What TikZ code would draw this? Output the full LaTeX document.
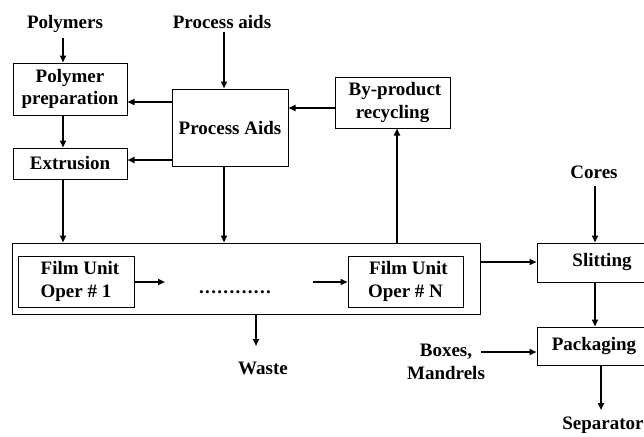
\documentclass[tikz,border=0pt]{standalone}
\usepackage{fontspec}
\setmainfont{Liberation Serif}
\usetikzlibrary{arrows.meta}
\begin{document}
\begin{tikzpicture}[x=1pt,y=-1pt,
  every node/.style={font=\fontsize{19}{22.5}\selectfont\bfseries, inner sep=0pt, align=center},
  box/.style={draw, line width=1pt},
  arr/.style={line width=2pt, -{Triangle[length=7pt,width=6pt]}},
  ln/.style={line width=2pt}]
\useasboundingbox (0,0) rectangle (644,436);
\begin{scope}
\clip (0,0) rectangle (644,436);
% labels
\node (polymers) at (65,24) {Polymers};
\node (paids) at (222,22) {Process aids};
\node (cores) at (594,172) {Cores};
\node (waste) at (263,368) {Waste};
\node (boxes) at (446,362) {Boxes,\\Mandrels};
\node (sep) at (603,425) {Separator};
% boxes
\node[box, minimum width=114, minimum height=52] (pp) at (70,89) {Polymer\\preparation};
\node[box, minimum width=114, minimum height=31] (ex) at (70,163.5) {Extrusion};
\node[box, minimum width=116, minimum height=77] (pa) at (230,127.5) {Process Aids};
\node[box, minimum width=115, minimum height=51] (bp) at (392.5,102.5) {\hspace*{5pt}By-product\\recycling};
\node[draw, line width=1pt, minimum width=468, minimum height=71] (plant) at (246,278.5) {};
\node[box, minimum width=116, minimum height=51] (f1) at (76,281.5) {\hspace*{8pt}Film Unit\\Oper \# 1};
\node[box, minimum width=115, minimum height=51] (fn) at (405.5,281.5) {\hspace*{6pt}Film Unit\\Oper \# N};
\node (dots) at (235,292) {.\kern1.35pt.\kern1.35pt.\kern1.35pt.\kern1.35pt.\kern1.35pt.\kern1.35pt.\kern1.35pt.\kern1.35pt.\kern1.35pt.\kern1.35pt.\kern1.35pt.};
\node[box, minimum width=110, minimum height=39, label={[xshift=10pt]center:Slitting}] (sl) at (592,262.5) {};
\node[box, minimum width=110, minimum height=38, label={[xshift=2pt]center:Packaging}] (pk) at (592,346) {};
\coordinate (dotsL) at (165,282);
\coordinate (dotsR) at (313,282);
% connectors
\draw[arr] (63,38) -- (pp.north -| 63,0);
\draw[arr] (paids.south -| 224,0) ++(0,3) -- (pa.north -| 224,0);
\draw[arr] (pp.south -| 63,0) -- (ex.north -| 63,0);
\draw[arr] (pa.west |- 0,102) -- (pp.east |- 0,102);
\draw[arr] (pa.west |- 0,160) -- (ex.east |- 0,160);
\draw[arr] (ex.south -| 63,0) -- (plant.north -| 63,0);
\draw[arr] (pa.south -| 224,0) -- (plant.north -| 224,0);
\draw[arr] (bp.west |- 0,108) -- (pa.east |- 0,108);
\draw[arr] (plant.north -| 397,0) -- (bp.south -| 397,0);
\draw[arr] (f1.east |- dotsL) -- (dotsL);
\draw[arr] (dotsR) -- (fn.west |- dotsR);
\draw[arr] (plant.south -| 256,0) -- (256,346);
\draw[arr] (plant.east |- 0,262) -- (sl.west |- 0,262);
\draw[arr] (595,186) -- (sl.north -| 595,0);
\draw[arr] (sl.south -| 595,0) -- (pk.north -| 595,0);
\draw[arr] (481,352) -- (pk.west |- 0,352);
\draw[arr] (pk.south -| 601,0) -- (601,410);
\end{scope}
\end{tikzpicture}
\end{document}
